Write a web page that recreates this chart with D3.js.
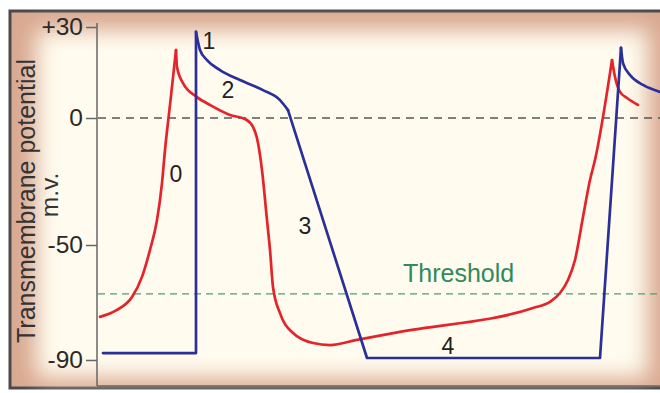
<!DOCTYPE html>
<html>
<head>
<meta charset="utf-8">
<script src="https://cdn.jsdelivr.net/npm/d3@7"></script>
<style>
  html, body { margin: 0; padding: 0; background: #fff; }
  svg { display: block; font-family: "Liberation Sans", Arial, sans-serif; }
</style>
</head>
<body>
<div id="chart"></div>
<script>
// Values: time in ms, potential in mV
const yTicks = [30, 0, -50, -90];
const zeroMv = 0;
const thresholdMv = -67;

// red trace (pacemaker-like cell)
const redUpstroke = [[6, -75.0], [40, -72.6], [70, -68.1], [90, -61.1], [106, -51.7], [120, -40.2],
  [130, -25.6], [136, -12.6], [146, 4.3], [158, 22.4]];
const redCycle = [[158, 22.4], [160, 16.8], [172, 11.5], [200, 6.9], [226, 4.3], [266, 1.0], [296, -0.4],
  [312, -3.5], [322, -9.8], [330, -20.5], [340, -40.2], [346, -51.7], [352, -64.6], [366, -73.7],
  [392, -80.6], [432, -84.1], [466, -84.8], [520, -83.0], [606, -80.2], [872, -71.9], [906, -69.8],
  [926, -66.7], [942, -62.2], [956, -55.2], [972, -39.0], [986, -24.4], [996, -16.5], [1030, 19.1]];
const redNext = [[1030, 19.1], [1036, 13.5], [1046, 8.6], [1060, 6.6], [1082, 4.3]];

// blue trace (ventricular muscle)
const blueRest = [[12, -87.6], [198, -87.6], [198, 28.4]];
const bluePlateau = [[198, 28.4], [206, 22.4], [220, 19.1], [246, 15.8], [286, 12.5], [332, 9.2],
  [366, 5.9], [382, 2.6]];
const blueRepol = [[382, 2.6], [540, -89.3], [1006, -89.3], [1048, 23.1]];
const blueNext = [[1048, 23.1], [1052, 18.1], [1066, 14.2], [1092, 10.9], [1126, 8.6]];

const phaseLabels = [
  { text: "0", t: 158, v: -22.0 },
  { text: "1", t: 224, v: 25.4 },
  { text: "2", t: 262, v: 9.2 },
  { text: "3", t: 416, v: -42.5 },
  { text: "4", t: 702, v: -85.1 }
];
const thresholdLabel = { text: "Threshold", t: 612, v: -62.9 };

const width = 660, height = 393;
const axisX = 97, axisBottom = 386;

const svg = d3.select("#chart")
    .append("svg")
    .attr("width", width)
    .attr("height", height);

// frame with soft cream centre
const defs = svg.append("defs");
defs.append("filter")
    .attr("id", "soft")
    .attr("x", "-20%").attr("y", "-20%").attr("width", "140%").attr("height", "140%")
    .append("feGaussianBlur")
    .attr("stdDeviation", 11);

svg.append("rect")
    .attr("x", 10).attr("y", 11)
    .attr("width", 670).attr("height", 377)
    .attr("fill", "#d9a890")
    .attr("stroke", "#4a4a4a")
    .attr("stroke-width", 3);

svg.append("rect")
    .attr("x", 36).attr("y", 30)
    .attr("width", 612).attr("height", 348)
    .attr("fill", "#fffcef")
    .attr("filter", "url(#soft)");

// scales (the drawing's voltage axis is not evenly spaced)
const x = d3.scaleLinear().domain([0, 1126]).range([axisX, width]);
const y = d3.scaleLinear().domain([-90, -50, 0, 30]).range([360, 245, 118, 27]);

// axes
svg.append("line")
    .attr("x1", axisX).attr("x2", axisX)
    .attr("y1", y(30) - 4).attr("y2", axisBottom)
    .attr("stroke", "#666").attr("stroke-width", 1.5);

svg.append("line")
    .attr("x1", axisX).attr("x2", width)
    .attr("y1", axisBottom).attr("y2", axisBottom)
    .attr("stroke", "#666").attr("stroke-width", 1.5);

const yAxis = svg.append("g")
    .attr("transform", `translate(${axisX},0)`)
    .call(d3.axisLeft(y)
        .tickValues(yTicks)
        .tickSize(11)
        .tickPadding(3)
        .tickFormat(d => d > 0 ? "+" + d : d));
yAxis.select(".domain").remove();
yAxis.selectAll("line").attr("stroke", "#666").attr("stroke-width", 1.5);
yAxis.selectAll("text")
    .attr("font-size", 24.5)
    .attr("font-family", "Liberation Sans, Arial, sans-serif")
    .attr("fill", "#2a2a2a");

// axis titles
svg.append("text")
    .attr("transform", "translate(35,201) rotate(-90)")
    .attr("text-anchor", "middle")
    .attr("font-size", 25)
    .attr("fill", "#333")
    .text("Transmembrane potential");

svg.append("text")
    .attr("transform", "translate(58,195) rotate(-90)")
    .attr("text-anchor", "middle")
    .attr("font-size", 24.5)
    .attr("fill", "#333")
    .text("m.v.");

// reference lines
svg.append("line")
    .attr("x1", axisX + 1).attr("x2", width)
    .attr("y1", y(zeroMv)).attr("y2", y(zeroMv))
    .attr("stroke", "#555").attr("stroke-width", 1.6)
    .attr("stroke-dasharray", "8,6");

svg.append("line")
    .attr("x1", axisX + 1).attr("x2", width)
    .attr("y1", y(thresholdMv)).attr("y2", y(thresholdMv))
    .attr("stroke", "#4a9e74").attr("stroke-width", 1.2)
    .attr("stroke-dasharray", "7,5");

svg.append("text")
    .attr("x", x(thresholdLabel.t))
    .attr("y", y(thresholdLabel.v))
    .attr("font-size", 25)
    .attr("fill", "#2f8a5c")
    .text(thresholdLabel.text);

// traces
const smooth = d3.line().x(d => x(d[0])).y(d => y(d[1])).curve(d3.curveMonotoneX);
const straight = d3.line().x(d => x(d[0])).y(d => y(d[1]));

const traces = [
  { data: redUpstroke, line: smooth, color: "#e5232b" },
  { data: redCycle, line: smooth, color: "#e5232b" },
  { data: redNext, line: smooth, color: "#e5232b" },
  { data: blueRest, line: straight, color: "#2b2f98" },
  { data: bluePlateau, line: smooth, color: "#2b2f98" },
  { data: blueRepol, line: straight, color: "#2b2f98" },
  { data: blueNext, line: smooth, color: "#2b2f98" }
];

svg.selectAll("path.trace")
    .data(traces)
    .enter().append("path")
    .attr("class", "trace")
    .attr("d", d => d.line(d.data))
    .attr("fill", "none")
    .attr("stroke", d => d.color)
    .attr("stroke-width", 2.7)
    .attr("stroke-linejoin", "round")
    .attr("stroke-linecap", "round");

// phase numbers
svg.selectAll("text.phase")
    .data(phaseLabels)
    .enter().append("text")
    .attr("class", "phase")
    .attr("x", d => x(d.t))
    .attr("y", d => y(d.v))
    .attr("dy", "0.35em")
    .attr("text-anchor", "middle")
    .attr("font-size", 23)
    .attr("fill", "#222")
    .text(d => d.text);
</script>
</body>
</html>
